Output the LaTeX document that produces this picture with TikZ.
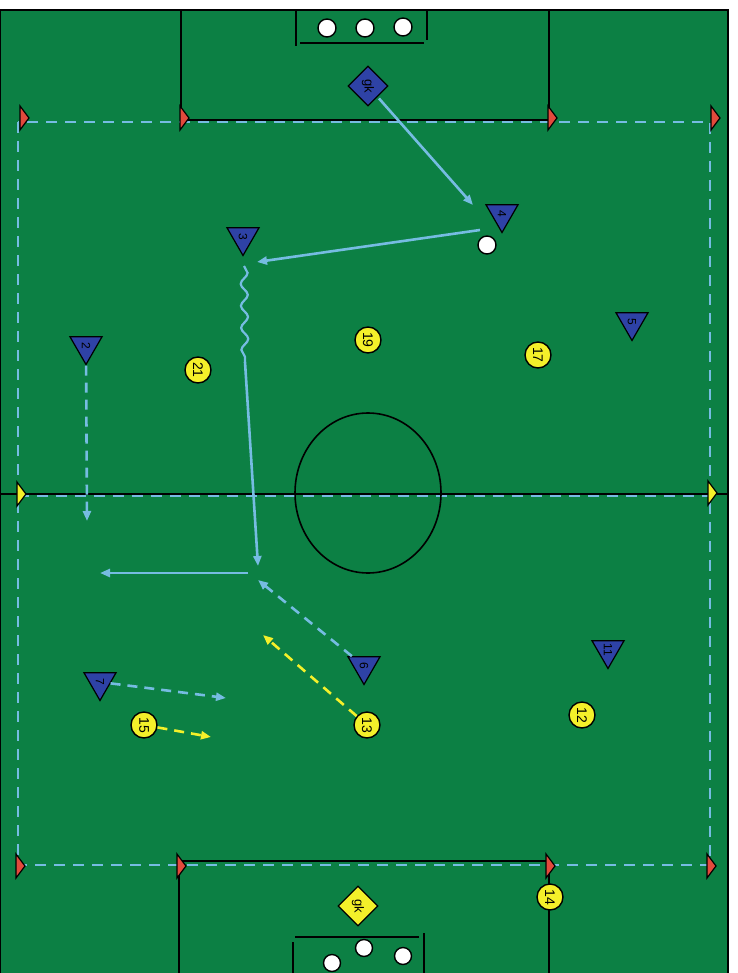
\documentclass[tikz,border=0pt]{standalone}
\usepackage{fontspec}
\setmainfont{Liberation Sans}
\usepackage{xcolor}
\usepackage{graphicx}
\definecolor{fdgreen}{RGB}{12,128,68}
\definecolor{fdnavy}{RGB}{46,66,166}
\definecolor{fdlight}{RGB}{118,188,226}
\definecolor{fdyellow}{RGB}{244,240,42}
\definecolor{fdred}{RGB}{226,74,60}
\usepackage{tikz}
\usetikzlibrary{shapes.geometric,arrows.meta,decorations.pathmorphing}
\newcommand{\cone}[3]{\filldraw[fill=#3,draw=black,line width=1.2pt] (#1,#2-12) -- (#1+9,#2) -- (#1,#2+12) -- cycle;}
\tikzset{
  blueman/.style={regular polygon,regular polygon sides=3,shape border rotate=180,minimum size=37pt,inner sep=0pt,fill=fdnavy,draw=black,line width=1.2pt,font=\fontsize{12}{13}\selectfont},
  yellowman/.style={circle,minimum size=26pt,inner sep=0pt,fill=fdyellow,draw=black,line width=1.4pt,font=\fontsize{14}{15}\selectfont},
  keeper/.style={diamond,minimum width=40pt,minimum height=40pt,inner sep=0pt,draw=black,line width=1.2pt,font=\fontsize{13}{14}\selectfont},
  ballw/.style={circle,minimum size=#1,inner sep=0pt,fill=white,draw=black,line width=1.4pt},
  pass/.style={fdlight,line width=2.6pt,-{Triangle[length=10pt,width=8pt]}},
  passd/.style={pass,dash pattern=on 10pt off 7pt},
  passy/.style={passd,fdyellow},
  touch/.style={fdlight,line width=2.8pt,dash pattern=on 11pt off 8pt},
}
\begin{document}
\begin{tikzpicture}[x=1pt,y=-1pt]
\useasboundingbox (0,0) rectangle (737,973);
% ---- boisko ----
\fill[white] (0,0) rectangle (737,973);
\fill[fdgreen] (0,10) rectangle (728,973);
\draw[line width=2pt] (0,10) -- (728,10) -- (728,973);
\draw[line width=1.4pt] (0,10) -- (0,973);
% pola karne
\draw[line width=1.6pt] (181,10) -- (181,120) -- (549,120) -- (549,10);
\draw[line width=1.6pt] (179,973) -- (179,861) -- (549,861) -- (549,973);
% bramki
\draw[line width=1.6pt] (296,10) -- (296,46);
\draw[line width=1.6pt] (427,10) -- (427,40);
\draw[line width=1.6pt] (300,43) -- (424,43);
\foreach \x/\y [count=\i] in {327/28,365/28,403/27}
  \node[ballw=18pt] (topb\i) at (\x,\y) {};
\draw[line width=1.6pt] (293,973) -- (293,942);
\draw[line width=1.6pt] (424,973) -- (424,933);
\draw[line width=1.6pt] (295,937) -- (419,937);
\foreach \x/\y [count=\i] in {332/963,364/948,403/956}
  \node[ballw=17pt] (botb\i) at (\x,\y) {};
% linie boczne i srodkowa
\draw[touch] (18,122) rectangle (710,865);
\draw[line width=1.6pt] (0,494) -- (728,494);
\draw[touch] (18,496) -- (710,496);
\draw[line width=1.6pt] (368,493) ellipse [x radius=73pt,y radius=80pt];
% pacholki
\foreach \x in {20,180,548,711} {\cone{\x}{118}{fdred}}
\foreach \x in {16,177,546,707} {\cone{\x}{866}{fdred}}
\cone{17}{494}{fdyellow}
\cone{708}{493}{fdyellow}
% zawodnicy
\node[keeper,fill=fdnavy] (gkA) at (368,86) {\rotatebox{-90}{gk}};
\node[keeper,fill=fdyellow] (gkB) at (358,906) {\rotatebox{-90}{gk}};
\foreach \n/\x/\y in {4/502/214,3/243/237,5/632/322,2/86/346,6/364/666,11/608/650,7/100/682}
  \node[blueman] (pb\n) at (\x,\y) {\rotatebox{-90}{\n}};
\foreach \n/\x/\y in {21/198/370,19/368/340,17/538/355,15/144/725,13/367/725,12/582/715,14/550/897}
  \node[yellowman] (py\n) at (\x,\y) {\rotatebox{-90}{\n}};
\node[ballw=18pt] (ball) at (487,245) {};
% podania i prowadzenie
\coordinate (c4in) at (473,205);
\coordinate (c3out) at (480,230);
\coordinate (c3in) at (257,262);
\coordinate (w1) at (244,266);
\coordinate (w2) at (245,362);
\coordinate (c3end) at (258,566);
\coordinate (c1st) at (248,573);
\coordinate (c1end) at (100,573);
\coordinate (c6end) at (258,580);
\coordinate (c13end) at (263,635);
\coordinate (c7end) at (226,698);
\coordinate (c15end) at (211,737);
\coordinate (c2end) at (87,521);
\draw[pass,shorten <=2pt] (gkA) -- (c4in);
\draw[pass] (c3out) -- (c3in);
\draw[fdlight,line width=2.2pt,decorate,decoration={snake,amplitude=3.5pt,segment length=22pt}] (w1) -- (w2);
\draw[pass] (w2) -- (c3end);
\draw[pass] (c1st) -- (c1end);
\draw[passd] (pb6) -- (c6end);
\draw[passy] (py13) -- (c13end);
\draw[passd] (pb7) -- (c7end);
\draw[passy] (py15) -- (c15end);
\draw[passd] (pb2) -- (c2end);
\end{tikzpicture}
\end{document}
